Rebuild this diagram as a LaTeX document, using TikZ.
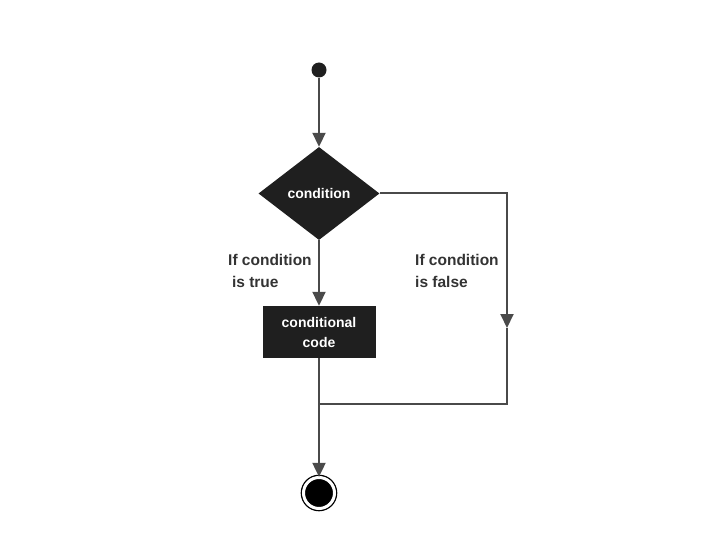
\documentclass[tikz,border=0pt]{standalone}
\usepackage{fontspec}
\setmainfont{Liberation Sans}
\usetikzlibrary{shapes.geometric,arrows.meta}
\definecolor{flowgray}{HTML}{4A4A4A}
\definecolor{boxdark}{HTML}{1F1F1F}
\begin{document}
\begin{tikzpicture}[x=1pt, y=-1pt,
        startdot/.style={circle, fill=boxdark, minimum size=15pt, inner sep=0pt},
        enddot/.style={circle, fill=black, draw=black, line width=1.3pt, double=white, double distance=3pt, minimum size=31pt, inner sep=0pt},
        decision/.style={diamond, fill=boxdark, minimum width=121pt, minimum height=93pt, inner sep=0pt, text=white, font=\bfseries\fontsize{14}{16}\selectfont},
        codebox/.style={rectangle, fill=boxdark, minimum width=113pt, minimum height=52pt, text=white, align=center, font=\bfseries\fontsize{14}{20}\selectfont},
        note/.style={text=black!80, align=left, anchor=west, inner sep=0pt, font=\bfseries\fontsize{15.5}{22}\selectfont},
        flow/.style={->, >={Triangle[width=13pt, length=14pt]}, line width=2pt, draw=flowgray},
        wire/.style={line width=2pt, draw=flowgray}
    ]
    \useasboundingbox (0,0) rectangle (720,540);

    % Start and decision
    \node[startdot] (start) at (319,70) {};
    \node[decision] (cond) at (319,193.5) {condition};

    % True branch
    \node[codebox] (code) at (319,332) {conditional\\code};
    \node[note] (truenote) at (228,271) {If condition\\\hspace{0.25em}is true};

    % False branch
    \node[note] (falsenote) at (415,271) {If condition\\is false};
    \coordinate (bend) at (507,328);
    \coordinate (join) at (507,404);
    \coordinate (merge) at (319,404);

    % End
    \node[enddot] (stop) at (319,493) {};

    % Connectors
    \draw[flow] (start) -- (cond);
    \draw[flow] (cond) -- (code);
    \draw[flow] (cond.east) -| (bend);
    \draw[wire] (bend) -- (join) -- (merge);
    \draw[flow] (code) -- (stop);

    \end{tikzpicture}
\end{document}
